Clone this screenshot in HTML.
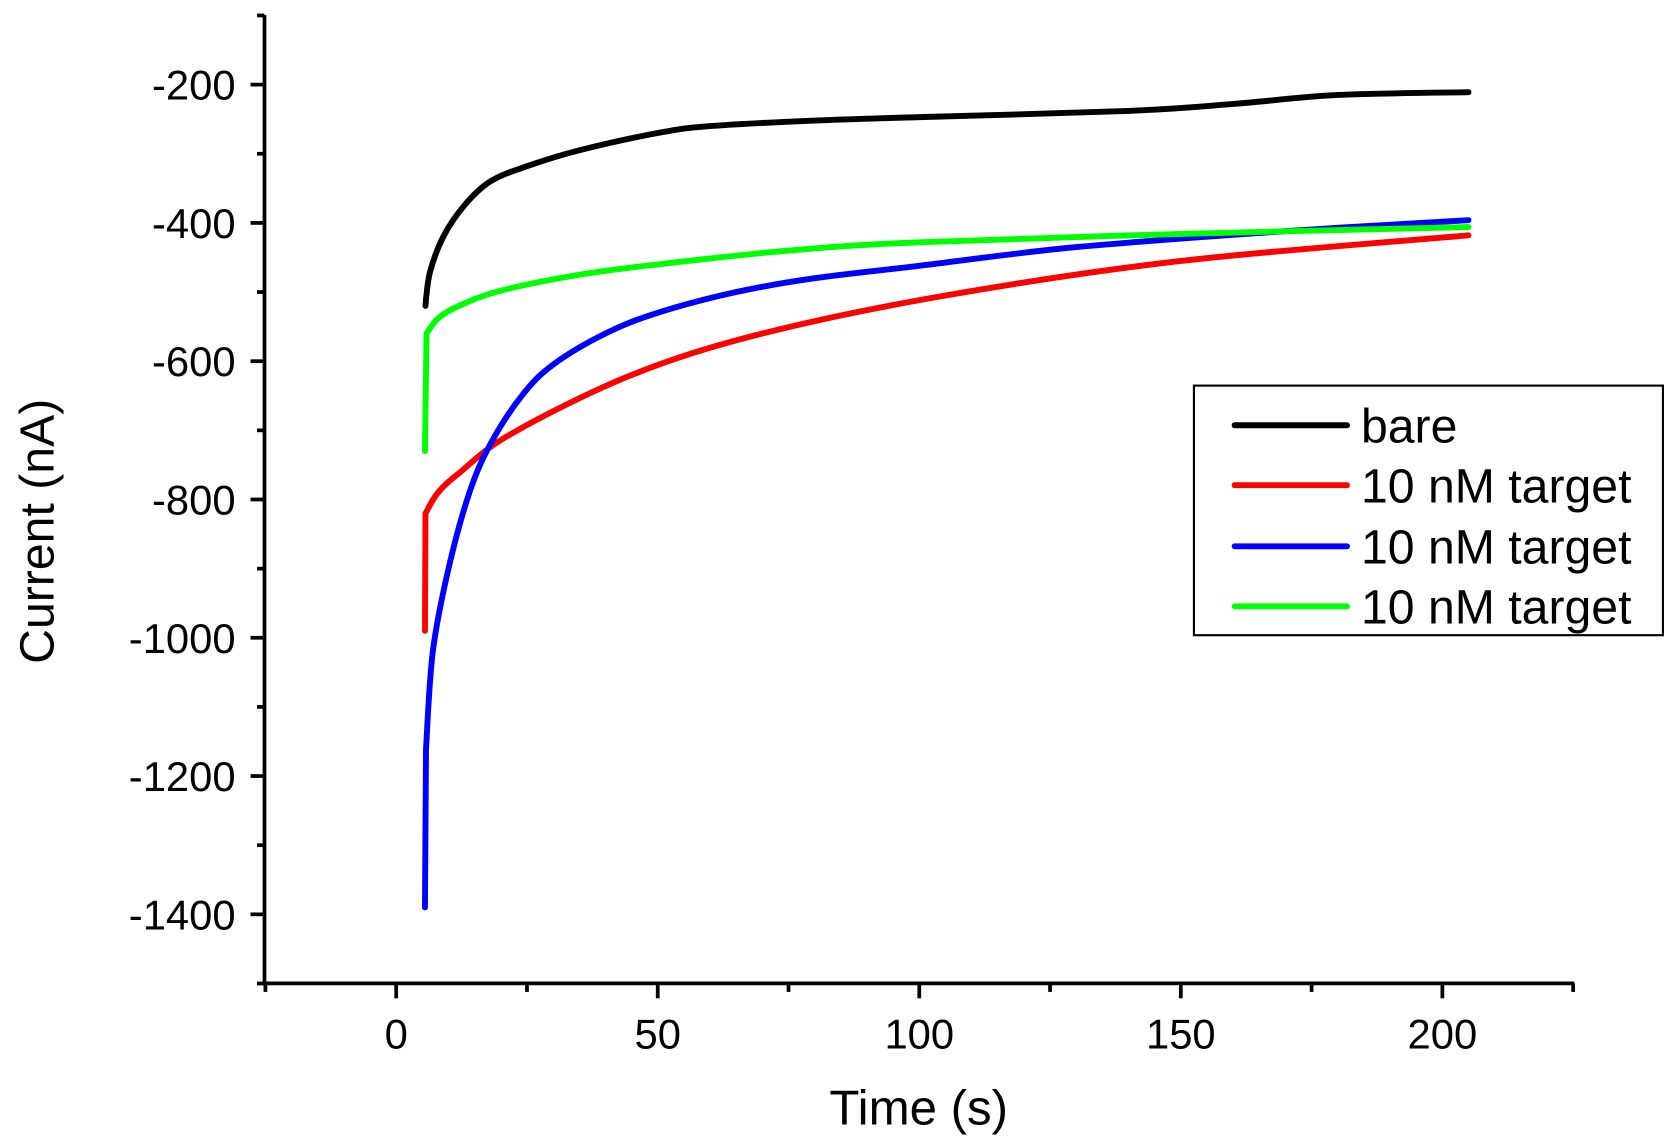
<!DOCTYPE html>
<html><head><style>html,body{margin:0;padding:0;background:#fff}svg{display:block}</style></head>
<body>
<svg id="s" width="1679" height="1144" viewBox="0 0 1568 1068" preserveAspectRatio="none" xmlns="http://www.w3.org/2000/svg" font-family="Liberation Sans, Arial, sans-serif">
<rect width="1568" height="1068" fill="#fff"/>
<g id="axes" stroke="#000" stroke-width="3.5" fill="none"></g>
<g id="ticklabels" font-size="39" fill="#000"></g>
<g id="curves" fill="none" stroke-width="5.5" stroke-linejoin="round" stroke-linecap="round"></g>
<text x="858" y="1050" font-size="46" text-anchor="middle">Time (s)</text>
<text transform="translate(50,496) rotate(-90)" font-size="45" text-anchor="middle">Current (nA)</text>
<rect x="1115" y="360" width="438" height="233" fill="#fff" stroke="#000" stroke-width="2"/>
<g stroke-width="5.5" stroke-linecap="round">
<line x1="1153" y1="397" x2="1258" y2="397" stroke="#000"/>
<line x1="1153" y1="453" x2="1258" y2="453" stroke="#f00"/>
<line x1="1153" y1="510" x2="1258" y2="510" stroke="#00f"/>
<line x1="1153" y1="566" x2="1258" y2="566" stroke="#0f0"/>
</g>
<g font-size="45" fill="#000">
<text x="1271" y="413">bare</text>
<text x="1271" y="469">10 nM target</text>
<text x="1271" y="526">10 nM target</text>
<text x="1271" y="582">10 nM target</text>
</g>
</svg>
<script>
const NS="http://www.w3.org/2000/svg";
function X(t){return 370+(t)*4.885;}
function Y(v){return 79+(-200-v)*0.6455;}
const ax=document.getElementById('axes'),tl=document.getElementById('ticklabels');
function el(p,tag,a){const e=document.createElementNS(NS,tag);for(const k in a)e.setAttribute(k,a[k]);p.appendChild(e);return e;}
el(ax,'line',{x1:247,y1:14,x2:247,y2:920});
el(ax,'line',{x1:245,y1:918,x2:1470,y2:918});
for(let v=-100;v>=-1500;v-=100){const y=Y(v);const maj=(v%200===0);el(ax,'line',{x1:maj?234:240,y1:y,x2:247,y2:y});
 if(maj&&v>=-1400&&v<=-200){const t=el(tl,'text',{x:220,y:y+14,'text-anchor':'end'});t.textContent=v;}}
for(let t=-25;t<=225;t+=25){const x=X(t);const maj=(t%50===0);el(ax,'line',{x1:x,y1:918,x2:x,y2:maj?932:926});
 if(maj&&t>=0&&t<=200){const e=el(tl,'text',{x:x,y:979,'text-anchor':'middle'});e.textContent=t;}}
function smooth(start,pts){let d='M'+X(start[0])+','+Y(start[1])+' L'+X(pts[0][0])+','+Y(pts[0][1]);
 const P=pts.map(p=>[X(p[0]),Y(p[1])]);
 for(let i=0;i<P.length-1;i++){const p0=P[Math.max(0,i-1)],p1=P[i],p2=P[i+1],p3=P[Math.min(P.length-1,i+2)];
 const c1=[p1[0]+(p2[0]-p0[0])/6,p1[1]+(p2[1]-p0[1])/6],c2=[p2[0]-(p3[0]-p1[0])/6,p2[1]-(p3[1]-p1[1])/6];
 d+=' C'+c1+' '+c2+' '+p2;}return d;}
const cv=document.getElementById('curves');
const series=[
['#f00',[5.5,-990],[[5.6,-820],[8,-790],[12,-762],[22,-705],[45,-620],[70,-560],[105,-505],[150,-455],[205,-418]]],
['#00f',[5.5,-1390],[[5.7,-1160],[7,-1020],[10,-900],[14,-790],[18,-720],[24,-650],[30,-605],[40,-560],[50,-530],[65,-500],[80,-480],[100,-462],[130,-435],[170,-412],[205,-396]]],
['#0f0',[5.5,-730],[[5.8,-560],[8,-538],[12,-520],[20,-498],[35,-475],[50,-460],[75,-440],[100,-428],[150,-416],[205,-406]]],
['#000',[5.6,-520],[[5.7,-510],[6.5,-470],[9,-420],[13,-375],[18,-340],[25,-318],[35,-295],[50,-270],[60,-260],[80,-252],[100,-247],[140,-238],[160,-228],[180,-215],[205,-211]]]
];
for(const [c,s,p] of series){el(cv,'path',{d:smooth(s,p),stroke:c});}
</script>
</body></html>
